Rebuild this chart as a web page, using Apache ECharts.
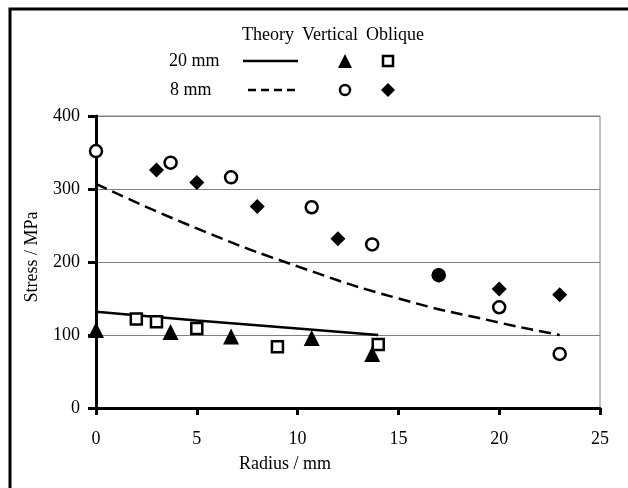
<!DOCTYPE html>
<html>
<head>
<meta charset="utf-8">
<script src="https://cdn.jsdelivr.net/npm/echarts@6/dist/echarts.min.js"></script>
<style>
html,body{margin:0;padding:0;background:#fff;}
#chart{width:628px;height:488px;}
</style>
</head>
<body>
<div id="chart"></div>
<script>
// ---- data ----
var xTicks = [0, 5, 10, 15, 20, 25];
var yTicks = [0, 100, 200, 300, 400];

var theory20R = [0, 5, 10, 14];
var theory20S = [132, 120, 109, 100];

var theory8R = [0, 5, 10, 15, 20, 23];
var theory8S = [307, 246, 194, 150, 117, 100];

var vertical20R = [0, 3.7, 6.7, 10.7, 13.7];
var vertical20S = [107, 104, 98, 96, 74];

var oblique20R = [2, 3, 5, 9, 14];
var oblique20S = [122, 118, 109, 84, 87];

var vertical8R = [0, 3.7, 6.7, 10.7, 13.7, 17, 20, 23];
var vertical8S = [352, 336, 316, 275, 224, 182, 138, 74];

var oblique8R = [3, 5, 8, 12, 17, 20, 23];
var oblique8S = [326, 309, 276, 232, 182, 163, 155];

// ---- helpers ----
function pairs(r, s) { return r.map(function (v, i) { return [v, s[i]]; }); }

var FONT = '"Liberation Serif", "Times New Roman", serif';
var FS = 18;

// circles coinciding with an oblique point look filled
var v8data = vertical8R.map(function (r, i) {
  var hit = oblique8R.some(function (q, j) { return q === r && oblique8S[j] === vertical8S[i]; });
  var d = { value: [r, vertical8S[i]] };
  if (hit) d.itemStyle = { color: '#000' };
  return d;
});

var chart = echarts.init(document.getElementById('chart'), null, { renderer: 'canvas' });

var txt = function (x, y, s, align) {
  return { type: 'text', x: x, y: y,
    style: { text: s, font: FS + 'px ' + FONT, fill: '#000', textAlign: align || 'left', textVerticalAlign: 'middle' } };
};

var option = {
  backgroundColor: '#fff',
  animation: false,
  grid: { left: 96, right: 28, top: 116, bottom: 80, show: true, borderColor: '#808080', borderWidth: 1, backgroundColor: 'transparent' },
  xAxis: {
    type: 'value', min: xTicks[0], max: xTicks[xTicks.length - 1], interval: 5,
    axisLine: { show: true, onZero: false, lineStyle: { color: '#000', width: 3 } },
    axisTick: { show: true, inside: false, length: 7, lineStyle: { color: '#000', width: 3 } },
    axisLabel: { margin: 22, fontFamily: FONT, fontSize: FS, color: '#000' },
    splitLine: { show: false }
  },
  yAxis: {
    type: 'value', min: yTicks[0], max: yTicks[yTicks.length - 1], interval: 100,
    axisLine: { show: true, onZero: false, lineStyle: { color: '#000', width: 3 } },
    axisTick: { show: true, inside: false, length: 8, lineStyle: { color: '#000', width: 3 } },
    axisLabel: { margin: 16, fontFamily: FONT, fontSize: FS, color: '#000' },
    splitLine: { show: true, lineStyle: { color: '#808080', width: 1 } }
  },
  series: [
    { name: 'Theory 20 mm', type: 'line', data: pairs(theory20R, theory20S), smooth: true, showSymbol: false,
      lineStyle: { color: '#000', width: 2.5 }, z: 3 },
    { name: 'Theory 8 mm', type: 'line', data: pairs(theory8R, theory8S), smooth: true, showSymbol: false,
      lineStyle: { color: '#000', width: 2.5, type: [12, 6] }, z: 3 },
    { name: 'Vertical 20 mm', type: 'scatter', data: pairs(vertical20R, vertical20S), symbol: 'triangle', symbolSize: 16,
      itemStyle: { color: '#000', opacity: 1 }, z: 4 },
    { name: 'Oblique 20 mm', type: 'scatter', data: pairs(oblique20R, oblique20S), symbol: 'rect', symbolSize: 11,
      itemStyle: { color: '#fff', borderColor: '#000', borderWidth: 2.5, opacity: 1 }, z: 4 },
    { name: 'Oblique 8 mm', type: 'scatter', data: pairs(oblique8R, oblique8S), symbol: 'diamond', symbolSize: 15,
      itemStyle: { color: '#000', opacity: 1 }, z: 4 },
    { name: 'Vertical 8 mm', type: 'scatter', data: v8data, symbol: 'circle', symbolSize: 12,
      itemStyle: { color: '#fff', borderColor: '#000', borderWidth: 2.5, opacity: 1 }, z: 5 }
  ],
  graphic: [
    { type: 'rect', shape: { x: 10, y: 9, width: 700, height: 600 }, style: { fill: 'none', stroke: '#000', lineWidth: 3 }, z: 10 },
    { type: 'text', x: 285, y: 464, style: { text: 'Radius / mm', font: FS + 'px ' + FONT, fill: '#000', textAlign: 'center', textVerticalAlign: 'middle' } },
    { type: 'text', x: 32, y: 257, rotation: Math.PI / 2, style: { text: 'Stress / MPa', font: FS + 'px ' + FONT, fill: '#000', textAlign: 'center', textVerticalAlign: 'middle' } },
    txt(242, 35, 'Theory'), txt(302, 35, 'Vertical'), txt(366, 35, 'Oblique'),
    txt(169, 61, '20 mm'), txt(170, 90, '8 mm'),
    { type: 'line', shape: { x1: 243, y1: 61, x2: 298, y2: 61 }, style: { stroke: '#000', lineWidth: 2.5 } },
    { type: 'line', shape: { x1: 248, y1: 90, x2: 298, y2: 90 }, style: { stroke: '#000', lineWidth: 2.5, lineDash: [8, 5] } },
    { type: 'polygon', shape: { points: [[345, 54], [352, 68], [338, 68]] }, style: { fill: '#000' } },
    { type: 'rect', shape: { x: 383, y: 56, width: 10, height: 10 }, style: { fill: '#fff', stroke: '#000', lineWidth: 2.5 } },
    { type: 'circle', shape: { cx: 345, cy: 90, r: 5 }, style: { fill: '#fff', stroke: '#000', lineWidth: 2.5 } },
    { type: 'polygon', shape: { points: [[388, 83], [395, 90], [388, 97], [381, 90]] }, style: { fill: '#000' } }
  ]
};
chart.setOption(option);
</script>
</body>
</html>
